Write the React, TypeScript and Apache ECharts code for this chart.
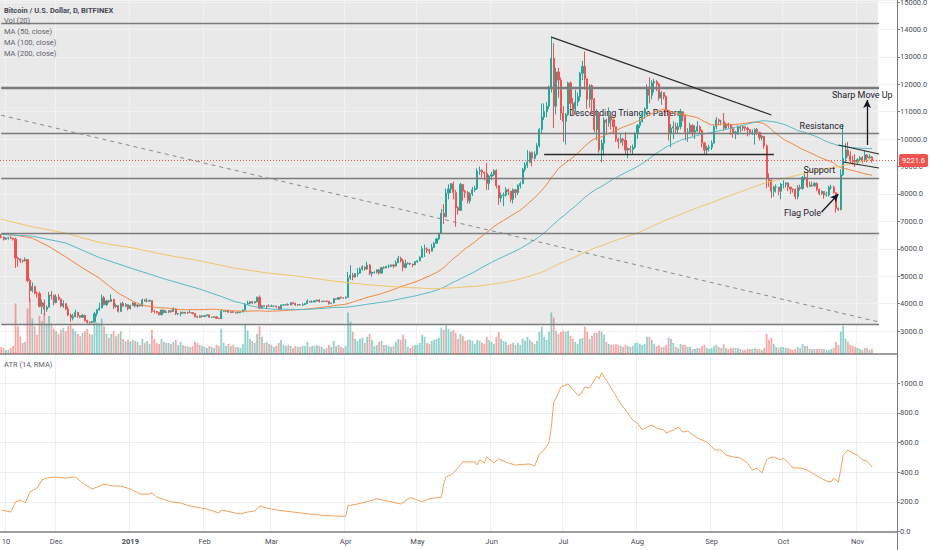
import React, { useEffect, useRef } from "react";
import * as echarts from "echarts";

// Each day: [close, high, low, volume]; open of a day = previous close
type Day = [number, number, number, number];

const nov2018: Day[] = [
  [6420, 6540, 6380, 14], [6350, 6440, 6300, 12], [6390, 6420, 6330, 8], [6400, 6430, 6330, 9], [6380, 6460, 6350, 12],
  [6350, 6400, 6300, 16], [5660, 6400, 5300, 100], [5630, 5710, 5350, 55], [5570, 5650, 5470, 35], [5550, 5610, 5490, 22],
  [5610, 5690, 5540, 24], [4840, 5610, 4780, 90], [4470, 4910, 4060, 110], [4620, 4770, 4410, 70], [4380, 4650, 4340, 55],
  [4360, 4440, 4220, 38], [3900, 4440, 3860, 75], [4030, 4150, 3620, 65], [3790, 4150, 3570, 80], [3870, 3930, 3700, 60],
  [4310, 4430, 3860, 75], [4290, 4460, 4150, 60], [4040, 4330, 3930, 50],
];
const dec2018: Day[] = [
  [4240, 4340, 4010, 45], [4170, 4350, 4120, 40], [3910, 4180, 3860, 48], [4000, 4120, 3840, 52], [3800, 4010, 3770, 45],
  [3580, 3900, 3540, 55], [3480, 3640, 3330, 60], [3520, 3620, 3390, 50], [3680, 3780, 3510, 45], [3560, 3700, 3480, 40],
  [3500, 3580, 3460, 35], [3570, 3620, 3480, 42], [3380, 3590, 3350, 45], [3320, 3410, 3280, 50], [3300, 3350, 3265, 40],
  [3340, 3370, 3290, 38], [3630, 3700, 3330, 65], [3780, 3790, 3530, 62], [3840, 4030, 3740, 60], [4210, 4330, 3830, 70],
  [3960, 4280, 3930, 55], [4100, 4120, 3910, 40], [4070, 4140, 4020, 32], [4160, 4340, 4070, 40], [3890, 4160, 3800, 45],
  [3930, 4000, 3840, 35], [3720, 3940, 3670, 40], [4000, 4040, 3700, 45], [3910, 4070, 3890, 30], [3960, 4020, 3870, 25],
  [3820, 3960, 3750, 28],
];
const jan2019: Day[] = [
  [3930, 3960, 3780, 25], [4020, 4050, 3910, 28], [3910, 4030, 3860, 26], [3950, 3970, 3850, 24], [3920, 3980, 3890, 18],
  [4130, 4180, 3880, 30], [4090, 4170, 4060, 22], [4090, 4200, 4040, 26], [4110, 4150, 4070, 20], [3720, 4120, 3660, 48],
  [3710, 3780, 3640, 30], [3680, 3730, 3640, 22], [3590, 3700, 3570, 20], [3760, 3790, 3580, 30], [3670, 3780, 3650, 24],
  [3700, 3760, 3660, 22], [3740, 3760, 3650, 22], [3710, 3750, 3660, 20], [3800, 3860, 3700, 24], [3630, 3820, 3580, 28],
  [3640, 3660, 3580, 18], [3680, 3710, 3540, 24], [3650, 3700, 3630, 18], [3680, 3700, 3630, 16], [3670, 3700, 3620, 15],
  [3670, 3760, 3650, 14], [3640, 3690, 3610, 16], [3530, 3640, 3490, 24], [3500, 3550, 3470, 22], [3550, 3570, 3480, 18],
  [3530, 3580, 3500, 16],
];
const feb2019: Day[] = [
  [3560, 3580, 3500, 15], [3590, 3600, 3540, 12], [3500, 3590, 3480, 16], [3500, 3520, 3480, 14], [3520, 3540, 3490, 12],
  [3460, 3530, 3440, 18], [3450, 3480, 3440, 16], [3720, 3790, 3440, 50], [3720, 3740, 3690, 22], [3750, 3760, 3690, 16],
  [3680, 3760, 3670, 20], [3700, 3710, 3650, 16], [3680, 3740, 3660, 18], [3660, 3690, 3640, 14], [3670, 3720, 3650, 14],
  [3700, 3730, 3670, 12], [3760, 3790, 3680, 20], [3980, 4010, 3750, 58], [4010, 4100, 3950, 46], [4070, 4080, 3980, 30],
  [4020, 4090, 3980, 26], [4070, 4090, 4010, 22], [4230, 4260, 4040, 40], [3830, 4300, 3800, 56], [3920, 3950, 3820, 34],
  [3900, 3940, 3880, 22], [3910, 3940, 3800, 24], [3900, 3970, 3880, 20],
];
const mar2019: Day[] = [
  [3910, 3960, 3890, 18], [3910, 3930, 3880, 14], [3880, 3920, 3850, 16], [3800, 3900, 3770, 22], [3950, 3960, 3780, 28],
  [3950, 3980, 3920, 18], [3970, 3990, 3930, 16], [3950, 4010, 3920, 18], [4030, 4050, 3940, 16], [4010, 4030, 3970, 12],
  [3950, 4020, 3920, 16], [3970, 3980, 3910, 14], [3950, 3980, 3930, 14], [3960, 4020, 3910, 16], [4000, 4020, 3950, 16],
  [4090, 4150, 3990, 24], [4060, 4090, 4040, 14], [4060, 4110, 4030, 16], [4100, 4110, 4050, 16], [4130, 4140, 4080, 18],
  [4070, 4160, 4040, 16], [4080, 4100, 4060, 14], [4090, 4110, 4070, 10], [4080, 4100, 4060, 12], [4000, 4100, 3960, 18],
  [4020, 4030, 3980, 14], [4180, 4190, 4010, 26], [4160, 4180, 4140, 16], [4220, 4240, 4150, 18], [4210, 4260, 4180, 14],
  [4200, 4220, 4180, 12],
];
const apr2019: Day[] = [
  [4230, 4260, 4180, 16], [4940, 5150, 4220, 82], [5030, 5400, 4870, 64], [4970, 5120, 4850, 44], [5090, 5110, 4950, 30],
  [5110, 5290, 4980, 26], [5260, 5320, 5100, 30], [5340, 5400, 5200, 32], [5260, 5350, 5200, 22], [5400, 5530, 5230, 34],
  [5100, 5450, 5040, 40], [5140, 5170, 4980, 28], [5140, 5180, 5100, 16], [5230, 5250, 5100, 18], [5110, 5260, 5060, 24],
  [5310, 5340, 5100, 26], [5300, 5360, 5270, 18], [5360, 5380, 5290, 18], [5360, 5430, 5290, 16], [5410, 5430, 5330, 14],
  [5370, 5430, 5290, 16], [5490, 5570, 5350, 24], [5650, 5740, 5490, 30], [5560, 5710, 5500, 28], [5320, 5630, 5180, 38],
  [5450, 5600, 5280, 30], [5470, 5510, 5430, 14], [5440, 5490, 5400, 12], [5410, 5450, 5330, 16], [5530, 5540, 5410, 18],
];
const may2019: Day[] = [
  [5560, 5590, 5480, 18], [5690, 5720, 5540, 22], [5990, 6100, 5680, 38], [5990, 6150, 5700, 34], [5960, 6050, 5850, 22],
  [5910, 6000, 5800, 20], [6050, 6180, 5900, 26], [6200, 6250, 6020, 28], [6360, 6400, 6200, 30], [6560, 6580, 6310, 32],
  [7290, 7450, 6540, 52], [7170, 7630, 6900, 48], [8030, 8200, 7150, 56], [8180, 8350, 7800, 50], [8370, 8390, 8030, 44],
  [8050, 8450, 7800, 48], [7500, 8150, 6800, 42], [7400, 7550, 7250, 30], [8350, 8400, 7380, 40], [8100, 8350, 7750, 36],
  [8050, 8150, 7850, 26], [7750, 8100, 7650, 28], [8000, 8050, 7650, 28], [8150, 8250, 7920, 26], [8200, 8300, 8080, 20],
  [8830, 8930, 8150, 28], [8850, 9000, 8700, 26], [8800, 8900, 8600, 22], [8750, 8800, 8500, 20], [8380, 9130, 8150, 34],
  [8650, 8700, 8150, 28],
];
const jun2019: Day[] = [
  [8700, 8800, 8500, 24], [8850, 8900, 8650, 20], [8300, 8900, 8200, 34], [7850, 8320, 7600, 44], [7950, 8050, 7700, 30],
  [7960, 8050, 7550, 26], [8150, 8250, 7900, 24], [8100, 8200, 7950, 18], [7800, 8100, 7700, 20], [8150, 8200, 7650, 22],
  [8050, 8150, 7850, 18], [8300, 8350, 7950, 22], [8380, 8450, 8200, 18], [8900, 8950, 8350, 30], [9050, 9150, 8800, 26],
  [9150, 9600, 8950, 34], [9500, 9550, 9150, 28], [9300, 9550, 9000, 24], [9450, 9550, 9250, 20], [9750, 9850, 9400, 26],
  [10350, 10400, 9700, 44], [10800, 11300, 10200, 54], [11000, 11300, 10700, 34], [11200, 11350, 10800, 28], [11900, 11950, 11100, 44],
  [12950, 13750, 11700, 82], [11200, 13500, 10400, 72], [12450, 12600, 10900, 46], [12150, 12600, 11500, 40], [10950, 12250, 10700, 44],
];
const jul2019: Day[] = [
  [10650, 11200, 9900, 46], [10900, 10950, 9800, 44], [12050, 12100, 10850, 46], [11300, 12100, 11100, 36], [11100, 11500, 10900, 30],
  [11350, 11800, 11000, 24], [11550, 11700, 11200, 20], [12400, 12450, 11400, 30], [12650, 12850, 12150, 32], [12200, 13200, 11800, 54],
  [11450, 12200, 11100, 44], [11950, 12000, 11150, 30], [11450, 12000, 10950, 36], [10350, 11500, 10250, 42], [10950, 11100, 9950, 42],
  [9600, 11000, 9500, 46], [9850, 9980, 9150, 44], [10700, 10800, 9400, 38], [10600, 10750, 10200, 24], [10850, 11150, 10450, 20],
  [10700, 10900, 10350, 18], [10450, 10750, 10200, 18], [10000, 10450, 9900, 20], [9900, 10050, 9650, 18], [10000, 10200, 9850, 16],
  [9950, 10050, 9750, 14], [9600, 10250, 9450, 18], [9650, 9700, 9300, 16], [9620, 9750, 9500, 14], [9700, 9800, 9450, 16],
  [10200, 10250, 9650, 22],
];
const aug2019: Day[] = [
  [10500, 10550, 10000, 22], [10650, 10800, 10400, 20], [10950, 11000, 10600, 18], [11100, 11150, 10750, 20], [11900, 12000, 11100, 34],
  [11600, 12250, 11300, 34], [12050, 12150, 11450, 28], [12100, 12200, 11700, 20], [12000, 12150, 11750, 16], [11500, 12050, 11400, 18],
  [11700, 11750, 11250, 14], [11550, 11700, 11450, 14], [11050, 11600, 10900, 18], [10200, 11050, 9950, 32], [10400, 10550, 9700, 30],
  [10450, 10650, 10000, 22], [10350, 10600, 10200, 14], [10450, 10600, 10200, 12], [11000, 11100, 10350, 20], [10850, 11000, 10650, 18],
  [10250, 10850, 9950, 18], [10250, 10400, 9900, 14], [10500, 10600, 10200, 14], [10250, 10550, 10100, 10], [10300, 10500, 10000, 10],
  [10450, 10650, 10250, 12], [10300, 10500, 10200, 12], [9850, 10350, 9700, 16], [9600, 9900, 9420, 18], [9680, 9750, 9450, 12],
  [9700, 9800, 9550, 10],
];
const sep2019: Day[] = [
  [9850, 9950, 9600, 12], [10450, 10500, 9850, 16], [10700, 10800, 10350, 18], [10650, 10750, 10500, 14], [10650, 10700, 10500, 12],
  [10400, 10950, 10300, 20], [10550, 10600, 10350, 12], [10500, 10600, 10400, 10], [10400, 10550, 10150, 12], [10200, 10450, 10050, 12],
  [10250, 10300, 10000, 12], [10450, 10500, 10150, 12], [10400, 10500, 10250, 10], [10450, 10500, 10300, 8], [10400, 10450, 10300, 8],
  [10350, 10450, 10100, 10], [10250, 10350, 10150, 10], [10250, 10350, 10150, 10], [10350, 10400, 9800, 12], [10250, 10400, 10150, 10],
  [10050, 10250, 9950, 10], [10100, 10150, 9950, 8], [9750, 10100, 9650, 12], [8580, 9800, 8200, 40], [8500, 8750, 8250, 28],
  [8100, 8550, 7850, 32], [8250, 8300, 7900, 20], [8250, 8350, 8050, 14], [8100, 8250, 7950, 12], [8350, 8400, 7800, 14],
];
const oct2019: Day[] = [
  [8350, 8500, 8200, 14], [8400, 8420, 8230, 12], [8250, 8420, 8100, 12], [8180, 8250, 8000, 10], [8160, 8200, 8050, 8],
  [7900, 8200, 7800, 10], [8230, 8320, 7800, 14], [8200, 8340, 8120, 12], [8600, 8650, 8150, 20], [8600, 8800, 8500, 16],
  [8280, 8800, 8220, 16], [8320, 8450, 8260, 10], [8300, 8450, 8250, 10], [8380, 8430, 8250, 10], [8170, 8420, 8100, 10],
  [8010, 8190, 7950, 10], [8090, 8130, 7970, 10], [7960, 8100, 7820, 10], [7960, 8080, 7900, 8], [8240, 8300, 7900, 8],
  [8240, 8330, 8160, 10], [8040, 8300, 8020, 12], [7480, 8060, 7320, 24], [7430, 7500, 7380, 18], [8700, 8900, 7400, 44],
  [9300, 10500, 8650, 56], [9600, 9850, 9150, 30], [9400, 9900, 9350, 24], [9220, 9550, 9100, 18], [9170, 9400, 9050, 16],
  [9150, 9450, 8980, 14],
];
const nov2019: Day[] = [
  [9250, 9300, 9050, 12], [9320, 9380, 9200, 10], [9220, 9380, 9120, 8], [9420, 9600, 9170, 12], [9320, 9460, 9150, 12],
  [9350, 9450, 9280, 8], [9221.6, 9380, 9150, 10],
];

const firstOpen = 6450;
const axisDayCount = 375; // Nov 8 2018 .. Nov 17 2019

const tickLabels: [string, string][] = [
  ["2018-11-10", "10"], ["2018-12-01", "Dec"], ["2019-01-01", "2019"], ["2019-02-01", "Feb"],
  ["2019-03-01", "Mar"], ["2019-04-01", "Apr"], ["2019-05-01", "May"], ["2019-06-01", "Jun"],
  ["2019-07-01", "Jul"], ["2019-08-01", "Aug"], ["2019-09-01", "Sep"], ["2019-10-01", "Oct"], ["2019-11-01", "Nov"],
];

// moving averages before enough history exists in the data above: [day index, value]
const ma50Early: [number, number][] = [
  [0, 6540], [7, 6480], [13, 6390], [20, 6080], [27, 5700], [34, 5300], [41, 4930], [45, 4650],
];
const ma100Early: [number, number][] = [
  [0, 6520], [13, 6460], [27, 6210], [41, 5680], [55, 5270], [69, 4880], [83, 4530], [92, 4260], [98, 4060],
];
const ma200Early: [number, number][] = [
  [0, 7080], [13, 6800], [27, 6570], [41, 6230], [55, 6030], [69, 5770], [83, 5560], [97, 5300], [111, 5120],
  [125, 4990], [139, 4820], [153, 4690], [167, 4600], [181, 4540], [190, 4580], [198, 4630],
];

// ATR (14, RMA): [day index, value]
const atrPoints: [number, number][] = [
  [0, 146], [4, 132], [6, 200], [8, 213], [10, 193], [12, 267], [15, 294], [17, 348], [19, 361], [22, 368], [27, 361],
  [31, 368], [34, 328], [38, 287], [40, 300], [43, 320], [47, 307], [50, 307], [54, 287], [58, 253], [62, 253], [63, 260],
  [65, 233], [71, 200], [75, 193], [79, 172], [86, 152], [91, 125], [92, 146], [100, 118], [103, 132], [106, 139],
  [108, 172], [111, 159], [115, 146], [122, 132], [129, 118], [133, 112], [138, 106], [144, 103], [145, 175], [149, 186],
  [154, 206], [157, 222], [161, 208], [167, 186], [171, 229], [176, 202], [179, 222], [184, 231], [185, 320], [186, 370],
  [188, 382], [191, 429], [193, 471], [196, 469], [198, 471], [199, 449], [200, 483], [202, 462], [203, 503], [206, 462],
  [208, 490], [212, 462], [215, 449], [221, 456], [223, 442], [225, 523], [227, 550], [229, 600], [230, 704], [231, 875],
  [232, 900], [234, 975], [237, 995], [241, 921], [242, 921], [244, 975], [246, 968], [249, 1049], [250, 1030], [251, 1071],
  [255, 968], [259, 860], [261, 820], [264, 752], [266, 732], [268, 685], [270, 705], [272, 719], [274, 698], [277, 685],
  [278, 664], [281, 685], [283, 705], [285, 671], [287, 678], [291, 631], [295, 604], [298, 556], [299, 550], [301, 550],
  [303, 516], [306, 503], [309, 496], [312, 462], [314, 415], [316, 429], [318, 395], [320, 483], [321, 496], [323, 503],
  [326, 483], [327, 496], [330, 449], [331, 429], [334, 429], [337, 415], [339, 395], [342, 368], [345, 341], [347, 334],
  [348, 361], [350, 334], [351, 420], [352, 515], [354, 550], [356, 530], [358, 516], [360, 483], [362, 476], [364, 436],
];

// drawings (day index, price)
const levelPrices: number[] = [14234, 11863, 10222, 8580, 6574, 3255];
const levelLastDay = 367;
const zone = { firstDay: 0, lastDay: 366, low: 3255, high: 15073 };
const triangleTop: [[number, number], [number, number]] = [[230, 13720], [322, 10878]];
const triangleBase: [[number, number], [number, number]] = [[227, 9430], [323, 9430]];
const flagUpper: [[number, number], [number, number]] = [[350, 9784], [367, 9456]];
const flagLower: [[number, number], [number, number]] = [[352, 9164], [367, 8945]];
const longTrend: [[number, number], [number, number]] = [[0, 10870], [367, 3328]];
const arrowUp: [[number, number], [number, number]] = [[362, 9784], [362, 11425]];
const arrowPole: [[number, number], [number, number]] = [[343, 7340], [350, 7997]];
const notesUnder: [string, number, number][] = [["Descending Triangle Pattern", 261, 10951]];
const notesOver: [string, number, number][] = [
  ["Sharp Move Up", 360, 11608], ["Resistance", 343, 10477], ["Support", 342, 8872], ["Flag Pole", 335, 7304],
];

const FONT = "Roboto, 'Liberation Sans', sans-serif";

function buildOption() {
  const days: Day[] = [
    ...nov2018, ...dec2018, ...jan2019, ...feb2019, ...mar2019, ...apr2019,
    ...may2019, ...jun2019, ...jul2019, ...aug2019, ...sep2019, ...oct2019, ...nov2019,
  ];
  const dates: string[] = [];
  const t0 = Date.UTC(2018, 10, 8);
  for (let i = 0; i < axisDayCount; i++) dates.push(new Date(t0 + i * 86400000).toISOString().slice(0, 10));

  const closes = days.map((d) => d[0]);
  const candles = days.map((d, i) => {
    const open = i === 0 ? firstOpen : days[i - 1][0];
    const close = d[0];
    return [open, close, Math.min(d[2], open, close), Math.max(d[1], open, close)];
  });
  const upVol = "rgba(38,166,154,0.5)";
  const downVol = "rgba(239,83,80,0.5)";
  const volumes = days.map((d, i) => ({
    value: d[3],
    itemStyle: { color: candles[i][1] >= candles[i][0] ? upVol : downVol },
  }));

  const movingAverage = (period: number, early: [number, number][]) => {
    const pts: [string, number][] = early.map(([i, v]) => [dates[i], v]);
    let sum = 0;
    for (let i = 0; i < closes.length; i++) {
      sum += closes[i];
      if (i >= period) sum -= closes[i - period];
      if (i >= period - 1) pts.push([dates[i], Math.round((sum / period) * 100) / 100]);
    }
    return pts;
  };

  const tickMap = new Map(tickLabels);
  const isTick = (_i: number, v: string) => tickMap.has(v);
  const lastClose = closes[closes.length - 1];

  const seg = (
    s: [[number, number], [number, number]],
    lineStyle: any,
    endSymbol = "none"
  ) => [
    { coord: [dates[s[0][0]], s[0][1]], symbol: "none", lineStyle },
    { coord: [dates[s[1][0]], s[1][1]], symbol: endSymbol, symbolSize: [6, 8] },
  ];

  const levelStyle = (p: number) => ({ color: "#7b7b7b", width: p === 11863 ? 2.4 : 1.4, type: "solid" });
  const drawStyle = { color: "#2b2b2b", width: 1.2, type: "solid" };

  const textRender = (notes: [string, number, number][]) => (_p: any, api: any) => ({
    type: "group",
    children: notes.map(([t, i, p]) => {
      const pt = api.coord([i, p]);
      return {
        type: "text",
        x: pt[0],
        y: pt[1],
        style: {
          text: t, fill: "#1e222d", fontSize: 9, fontFamily: FONT, font: `9px ${FONT}`,
          align: "center", verticalAlign: "middle", textAlign: "center", textVerticalAlign: "middle",
        },
      };
    }),
  });

  const axisLabelFont = { fontSize: 7.5, color: "#4a4e59", fontFamily: FONT };
  const xCommon = { type: "category", data: dates, boundaryGap: true };

  const headerLines: [string, boolean][] = [
    ["Bitcoin / U.S. Dollar, D, BITFINEX", true], ["Vol (20)", false], ["MA (50, close)", false],
    ["MA (100, close)", false], ["MA (200, close)", false],
  ];

  return {
    animation: false,
    backgroundColor: "#ffffff",
    grid: [
      { left: 0, right: 35, top: 0, height: 354, outerBoundsMode: "none" },
      { left: 0, right: 35, top: 0, height: 331, outerBoundsMode: "none" },
      { left: 0, right: 35, top: 353.6, height: 178, outerBoundsMode: "none" },
    ],
    xAxis: [
      {
        ...xCommon, gridIndex: 0,
        axisLine: { show: true, lineStyle: { color: "#808080", width: 1.5 } },
        axisTick: { show: false }, axisLabel: { show: false },
        splitLine: { show: true, interval: isTick, lineStyle: { color: "#f2f2f2", width: 1 } },
      },
      { ...xCommon, gridIndex: 1, show: false },
      {
        ...xCommon, gridIndex: 2,
        axisLine: { show: true, lineStyle: { color: "#808080", width: 1.5 } },
        axisTick: { show: false },
        axisLabel: {
          ...axisLabelFont, interval: isTick, margin: 6, hideOverlap: false,
          formatter: (v: string) => {
            const l = tickMap.get(v) || "";
            return /^\d{4}$/.test(l) ? `{b|${l}}` : l;
          },
          rich: { b: { fontWeight: "bold", fontSize: 7.5, color: "#4a4e59", fontFamily: FONT } },
        },
        splitLine: { show: true, interval: isTick, lineStyle: { color: "#eceef2", width: 1 } },
      },
    ],
    yAxis: [
      { type: "value", gridIndex: 0, min: 0, max: 700, show: false },
      {
        type: "value", gridIndex: 1, position: "right", min: 3000, max: 15073, interval: 1000,
        axisLine: { show: false },
        axisTick: { show: true, length: 3, lineStyle: { color: "#7b7b7b" } },
        axisLabel: { ...axisLabelFont, margin: 3, showMaxLabel: false, formatter: (v: number) => v.toFixed(1) },
        splitLine: { show: true, lineStyle: { color: "#f2f2f2", width: 1 } },
      },
      {
        type: "value", gridIndex: 2, position: "right", min: 0, max: 1200, interval: 200,
        axisLine: { show: false },
        axisTick: { show: true, length: 3, lineStyle: { color: "#7b7b7b" } },
        axisLabel: { ...axisLabelFont, margin: 3, showMaxLabel: false, formatter: (v: number) => v.toFixed(1) },
        splitLine: { show: true, lineStyle: { color: "#eceef2", width: 1 } },
      },
    ],
    series: [
      {
        name: "zone", type: "custom", xAxisIndex: 1, yAxisIndex: 1, z: -1, silent: true, data: [[0, 0]],
        renderItem: (_p: any, api: any) => {
          const half = api.size([1, 0])[0] / 2;
          const tl = api.coord([zone.firstDay, zone.high]);
          const br = api.coord([zone.lastDay, zone.low]);
          return {
            type: "rect",
            shape: { x: tl[0] - half, y: tl[1], width: br[0] - tl[0] + 2 * half, height: br[1] - tl[1] },
            style: { fill: "#e9e9e9" },
          };
        },
      },
      {
        name: "Vol", type: "bar", xAxisIndex: 0, yAxisIndex: 0, data: volumes, barWidth: "75%", z: 1, silent: true,
      },
      {
        name: "notesUnder", type: "custom", xAxisIndex: 1, yAxisIndex: 1, z: 1, silent: true, data: [[0, 0]],
        renderItem: textRender(notesUnder),
      },
      {
        name: "BTCUSD", type: "candlestick", xAxisIndex: 1, yAxisIndex: 1, data: candles, barWidth: "68%", z: 2,
        silent: true,
        itemStyle: { color: "#26a69a", color0: "#ef5350", borderColor: "#26a69a", borderColor0: "#ef5350", borderWidth: 1 },
        markLine: {
          silent: true, animation: false, symbol: ["none", "none"], label: { show: false },
          data: [
            ...levelPrices.map((p) => [
              { coord: [dates[0], p], symbol: "none", lineStyle: levelStyle(p) },
              { coord: [dates[levelLastDay], p], symbol: "none" },
            ]),
            seg(longTrend, { color: "#8a8a8a", width: 1, type: [4, 4] }),
            seg(triangleTop, drawStyle),
            seg(triangleBase, { ...drawStyle, width: 1.4 }),
            seg(flagUpper, drawStyle),
            seg(flagLower, drawStyle),
            seg(arrowUp, { color: "#131722", width: 1.3, type: "solid" }, "arrow"),
            seg(arrowPole, { color: "#131722", width: 1.3, type: "solid" }, "arrow"),
            {
              yAxis: lastClose,
              lineStyle: { color: "#ef5350", width: 1, type: [1, 2] },
              label: {
                show: true, position: "end", distance: 2, formatter: String(lastClose),
                backgroundColor: "#ef5350", color: "#ffffff", padding: [3, 3, 2, 3], borderRadius: 2,
                fontSize: 7.5, fontFamily: FONT,
              },
            },
          ],
        },
      },
      {
        name: "MA50", type: "line", xAxisIndex: 1, yAxisIndex: 1, data: movingAverage(50, ma50Early), z: 3,
        showSymbol: false, silent: true, lineStyle: { color: "#f0853f", width: 1 },
      },
      {
        name: "MA100", type: "line", xAxisIndex: 1, yAxisIndex: 1, data: movingAverage(100, ma100Early), z: 3,
        showSymbol: false, silent: true, lineStyle: { color: "#55b9c4", width: 1 },
      },
      {
        name: "MA200", type: "line", xAxisIndex: 1, yAxisIndex: 1, data: movingAverage(200, ma200Early), z: 3,
        showSymbol: false, silent: true, lineStyle: { color: "#f2c46d", width: 1 },
      },
      {
        name: "notesOver", type: "custom", xAxisIndex: 1, yAxisIndex: 1, z: 6, silent: true, data: [[0, 0]],
        renderItem: textRender(notesOver),
      },
      {
        name: "ATR", type: "line", xAxisIndex: 2, yAxisIndex: 2, data: atrPoints.map(([i, v]) => [dates[i], v]),
        showSymbol: false, silent: true, lineStyle: { color: "#f5a25d", width: 1 },
      },
    ],
    graphic: [
      ...headerLines.map(([t, bold], k) => ({
        type: "text", left: 4, top: 6 + k * 10.9, silent: true, z: 10,
        style: {
          text: t, fill: bold ? "#474a55" : "#62656f",
          font: `${bold ? "bold " : ""}7.5px ${FONT}`, fontSize: 7.5, fontWeight: bold ? "bold" : "normal", fontFamily: FONT,
        },
      })),
      {
        type: "text", left: 4, top: 360.5, silent: true, z: 10,
        style: { text: "ATR (14, RMA)", fill: "#62656f", font: `7.5px ${FONT}`, fontSize: 7.5, fontFamily: FONT },
      },
      {
        type: "line", silent: true, z: 10,
        shape: { x1: 897.5, y1: 0, x2: 897.5, y2: 550 },
        style: { stroke: "#7b7b7b", lineWidth: 1 },
      },
    ],
  };
}

export default function App() {
  const ref = useRef<HTMLDivElement>(null);
  useEffect(() => {
    document.body.style.margin = "0";
    const chart = echarts.init(ref.current as HTMLDivElement, null, { renderer: "svg" });
    chart.setOption(buildOption() as any);
    return () => chart.dispose();
  }, []);
  return (
    <div
      ref={ref}
      style={{ position: "fixed", left: 0, top: 0, width: 932, height: 550, background: "#ffffff" }}
    />
  );
}
